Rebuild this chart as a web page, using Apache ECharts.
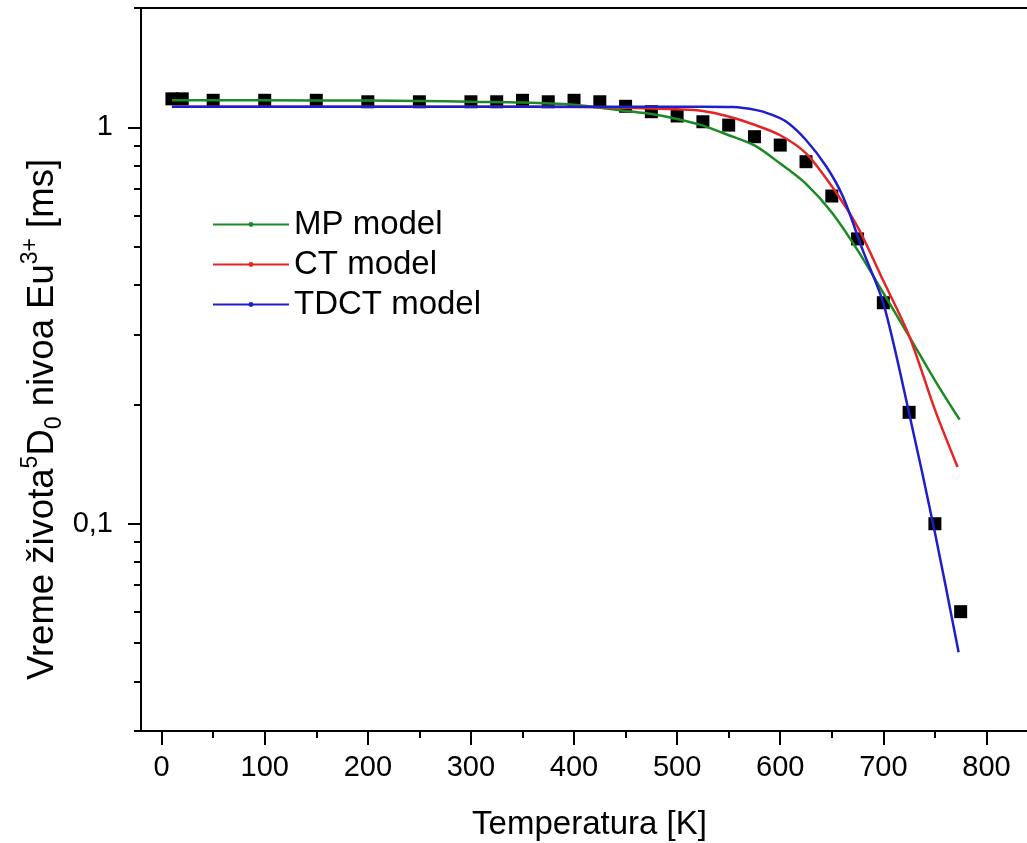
<!DOCTYPE html>
<html><head><meta charset="utf-8">
<script src="https://cdn.jsdelivr.net/npm/echarts@6/dist/echarts.min.js"></script>
<style>html,body{margin:0;padding:0;background:#fff}#c{width:1027px;height:843px}</style>
</head><body><div id="c"></div>
<script>
// Experimental points (temperature K, lifetime ms)
const expT   = [10, 20, 50, 100, 150, 200, 250, 300, 325, 350, 375, 400, 425, 450, 475, 500, 525, 550, 575, 600, 625, 650, 675, 700, 725, 750, 775];
const expTau = [1.18, 1.18, 1.17, 1.17, 1.17, 1.16, 1.16, 1.16, 1.16, 1.17, 1.16, 1.17, 1.16, 1.13, 1.095, 1.068, 1.033, 1.013, 0.947, 0.902, 0.819, 0.671, 0.523, 0.361, 0.191, 0.1, 0.060];
// MP model
const mpT   = [10, 100, 200, 250, 300, 350, 400, 425, 450, 475, 500, 525, 550, 575, 600, 625, 650, 675, 700, 725, 750, 774];
const mpTau = [1.17, 1.17, 1.168, 1.166, 1.16, 1.155, 1.14, 1.12, 1.10, 1.08, 1.05, 1.01, 0.955, 0.90, 0.81, 0.72, 0.61, 0.49, 0.382, 0.297, 0.23, 0.183];
// CT model
const ctT   = [10, 300, 400, 450, 500, 525, 550, 575, 600, 625, 650, 675, 700, 725, 750, 772];
const ctTau = [1.127, 1.127, 1.125, 1.12, 1.11, 1.10, 1.065, 1.015, 0.955, 0.86, 0.71, 0.561, 0.41, 0.298, 0.194, 0.139];
// TDCT model
const tdT   = [10, 450, 525, 554, 577, 590, 606, 625, 645, 661, 680, 700, 725, 750, 773];
const tdTau = [1.127, 1.127, 1.127, 1.125, 1.105, 1.08, 1.033, 0.929, 0.794, 0.667, 0.49, 0.36, 0.19, 0.095, 0.0474];
// Axis ticks
const xTickLabels = [0, 100, 200, 300, 400, 500, 600, 700, 800];
const xMinorTicks = [50, 150, 250, 350, 450, 550, 650, 750];
const yTickLabels = [0.1, 1];
const yMinorTicks = [0.03, 0.04, 0.05, 0.06, 0.07, 0.08, 0.09, 0.2, 0.3, 0.4, 0.5, 0.6, 0.7, 0.8, 0.9, 2];
const seriesNames = ['MP model', 'CT model', 'TDCT model'];

const FONT = '"Liberation Sans", Arial, sans-serif';
const zip = (a, b) => a.map((v, i) => [v, b[i]]);
const chart = echarts.init(document.getElementById('c'), null, {renderer: 'canvas'});
const axisLine = {show: true, onZero: false, lineStyle: {color: '#000', width: 2}};
const hiddenLine = {show: false, onZero: false};
const lineSeries = (name, t, v, color) => ({
  name, type: 'line', data: zip(t, v), showSymbol: false, symbol: 'circle',
  smooth: 0.3, xAxisIndex: 0, yAxisIndex: 0,
  lineStyle: {color, width: 2.5}, itemStyle: {color}, z: 3
});
chart.setOption({
  animation: false,
  backgroundColor: '#fff',
  grid: {left: 141, top: 8, width: 897, height: 723, show: true, borderColor: '#000', borderWidth: 2,
         containLabel: false, outerBoundsMode: 'none'},
  legend: {
    data: seriesNames, orient: 'vertical', left: 207, top: 203, itemWidth: 76, itemHeight: 6, itemGap: 7,
    selectedMode: false, textStyle: {fontSize: 33, color: '#000', fontFamily: FONT}
  },
  xAxis: [{
    type: 'value', min: -20, max: 850, position: 'bottom',
    axisLine, splitLine: {show: false},
    axisTick: {show: true, customValues: xTickLabels, length: 14, lineStyle: {color: '#000', width: 2}},
    axisLabel: {customValues: xTickLabels, fontSize: 29, color: '#000', fontFamily: FONT, margin: 22},
    name: 'Temperatura [K]', nameLocation: 'middle', nameGap: 77, nameMoveOverlap: false,
    nameTextStyle: {fontSize: 33, color: '#000', fontFamily: FONT}
  }, {
    type: 'value', min: -20, max: 850, position: 'bottom',
    axisLine: hiddenLine, splitLine: {show: false}, axisLabel: {show: false},
    axisTick: {show: true, customValues: xMinorTicks, length: 7, lineStyle: {color: '#000', width: 2}}
  }],
  yAxis: [{
    type: 'log', logBase: 10, min: 0.03, max: 2, position: 'left',
    axisLine, splitLine: {show: false}, minorTick: {show: false},
    axisTick: {show: true, customValues: yTickLabels, length: 13, lineStyle: {color: '#000', width: 2}},
    axisLabel: {customValues: yTickLabels, fontSize: 29, color: '#000', fontFamily: FONT, margin: 28,
                formatter: v => String(v).replace('.', ',')},
    name: '{t|Vreme života}{sp|5}{t|D}{sb|0}{t| nivoa Eu}{sp|3+}{t| [ms]}',
    nameLocation: 'middle', nameGap: 75, nameMoveOverlap: false,
    nameTextStyle: {
      color: '#000', fontSize: 36.5, fontFamily: FONT, padding: [0, 100, 0, 0],
      rich: {
        t: {fontSize: 36.5, lineHeight: 47, color: '#000', fontFamily: FONT},
        sp: {fontSize: 23, lineHeight: 23, verticalAlign: 'top', color: '#000', fontFamily: FONT},
        sb: {fontSize: 23, lineHeight: 23, verticalAlign: 'bottom', color: '#000', fontFamily: FONT}
      }
    }
  }, {
    type: 'log', logBase: 10, min: 0.03, max: 2, position: 'left',
    axisLine: hiddenLine, splitLine: {show: false}, axisLabel: {show: false},
    axisTick: {show: true, customValues: yMinorTicks, length: 7, lineStyle: {color: '#000', width: 2}}
  }],
  series: [
    {name: 'exp', type: 'scatter', data: zip(expT, expTau), symbol: 'rect', symbolSize: 13,
     itemStyle: {color: '#000', opacity: 1}, xAxisIndex: 0, yAxisIndex: 0, z: 2},
    lineSeries('MP model', mpT, mpTau, '#1c8a24'),
    lineSeries('CT model', ctT, ctTau, '#e52525'),
    lineSeries('TDCT model', tdT, tdTau, '#1e1ecc')
  ]
});
</script></body></html>
